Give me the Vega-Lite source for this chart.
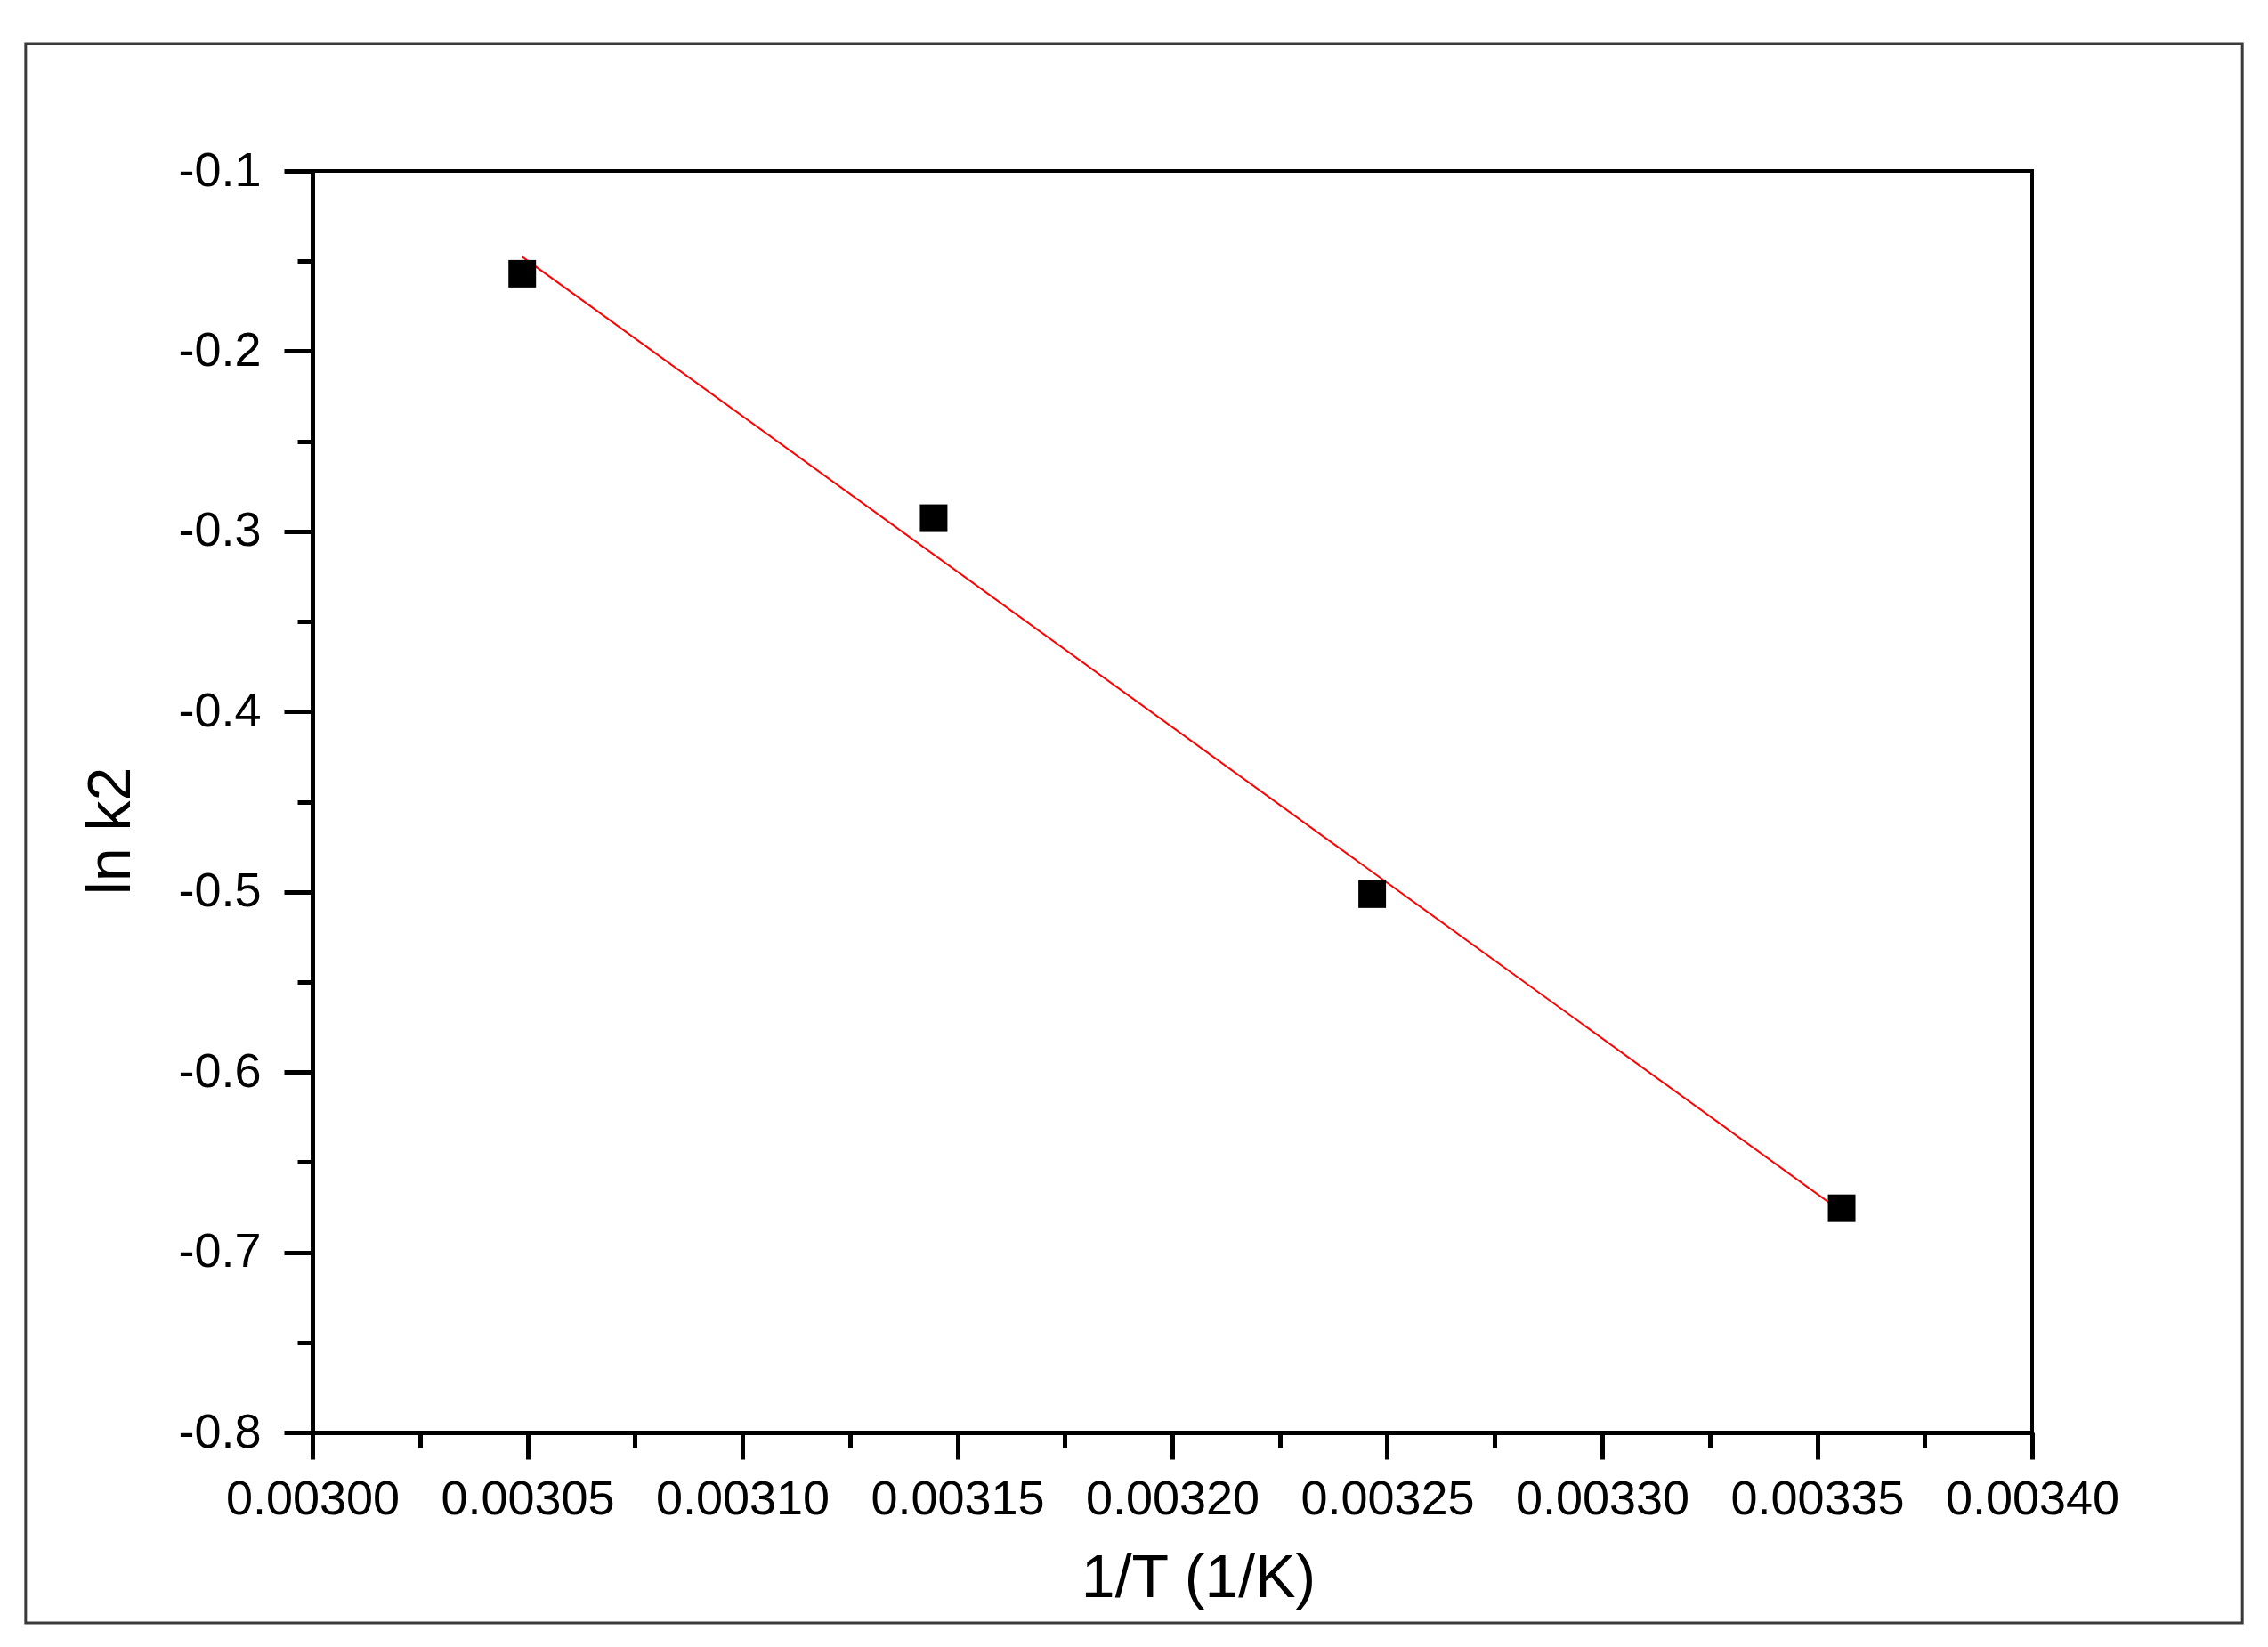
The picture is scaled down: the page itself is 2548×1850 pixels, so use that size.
{
  "$schema": "https://vega.github.io/schema/vega-lite/v6.json",
  "width": 1932,
  "height": 1417,
  "autosize": {"type": "none"},
  "padding": {"left": 351, "top": 192, "right": 265, "bottom": 241},
  "background": "white",
  "config": {
    "font": "Liberation Sans",
    "view": {"stroke": "black", "strokeWidth": 4}
  },
  "datasets": {
    "points": [
      {"invT": 0.0030488, "lnk2": -0.1570},
      {"invT": 0.0031445, "lnk2": -0.2927},
      {"invT": 0.0032465, "lnk2": -0.5013},
      {"invT": 0.0033557, "lnk2": -0.6756}
    ],
    "fit": [
      {"invT": 0.0030488, "lnk2": -0.1476},
      {"invT": 0.0033557, "lnk2": -0.6775}
    ],
    "frame": [{"x0": 0.0029333, "x1": 0.0034489, "y0": -0.0294, "y1": -0.9057}]
  },
  "layer": [
    {
      "data": {"name": "frame"},
      "mark": {"type": "rect", "fill": null, "filled": false, "stroke": "#3a3a3a", "strokeWidth": 3, "clip": false},
      "encoding": {
        "x": {"field": "x0", "type": "quantitative"},
        "x2": {"field": "x1"},
        "y": {"field": "y0", "type": "quantitative"},
        "y2": {"field": "y1"}
      }
    },
    {
      "data": {"name": "fit"},
      "mark": {"type": "line", "color": "#ff0000", "strokeWidth": 2},
      "encoding": {
        "x": {
          "field": "invT",
          "type": "quantitative",
          "scale": {"domain": [0.003, 0.0034], "nice": false, "zero": false},
          "axis": {
            "values": [0.003, 0.003025, 0.00305, 0.003075, 0.0031, 0.003125, 0.00315, 0.003175, 0.0032, 0.003225, 0.00325, 0.003275, 0.0033, 0.003325, 0.00335, 0.003375, 0.0034],
            "labelExpr": "round(datum.value*40000) % 2 == 0 ? format(datum.value, '.5f') : ''",
            "tickSize": {"condition": {"test": "round(datum.value*40000) % 2 == 0", "value": 30}, "value": 17},
            "tickWidth": 5,
            "tickColor": "black",
            "domainColor": "black",
            "domainWidth": 5,
            "grid": false,
            "labelFontSize": 54,
            "labelColor": "black",
            "labelPadding": 18,
            "labelOverlap": false,
            "labelFlush": false,
            "labelBound": false,
            "labelLimit": 0,
            "title": "1/T (1/K)",
            "titleFontSize": 68,
            "titleFontWeight": "normal",
            "titleColor": "black",
            "titlePadding": 28,
            "titleX": 995
          }
        },
        "y": {
          "field": "lnk2",
          "type": "quantitative",
          "scale": {"domain": [-0.8, -0.1], "nice": false, "zero": false},
          "axis": {
            "values": [-0.8, -0.75, -0.7, -0.65, -0.6, -0.55, -0.5, -0.45, -0.4, -0.35, -0.3, -0.25, -0.2, -0.15, -0.1],
            "labelExpr": "round(datum.value*20) % 2 == 0 ? (datum.value < 0 ? '-' : '') + format(abs(datum.value), '.1f') : ''",
            "tickSize": {"condition": {"test": "round(datum.value*20) % 2 == 0", "value": 32}, "value": 17},
            "tickWidth": 5,
            "tickColor": "black",
            "domainColor": "black",
            "domainWidth": 5,
            "grid": false,
            "labelFontSize": 54,
            "labelColor": "black",
            "labelPadding": 26,
            "labelOverlap": false,
            "labelFlush": false,
            "labelBound": false,
            "labelLimit": 0,
            "title": "ln k2",
            "titleFontSize": 68,
            "titleFontWeight": "normal",
            "titleColor": "black",
            "titlePadding": 40,
            "titleY": 741
          }
        }
      }
    },
    {
      "data": {"name": "points"},
      "mark": {"type": "square", "filled": true, "color": "black", "opacity": 1, "size": 960},
      "encoding": {
        "x": {"field": "invT", "type": "quantitative"},
        "y": {"field": "lnk2", "type": "quantitative"}
      }
    }
  ]
}
